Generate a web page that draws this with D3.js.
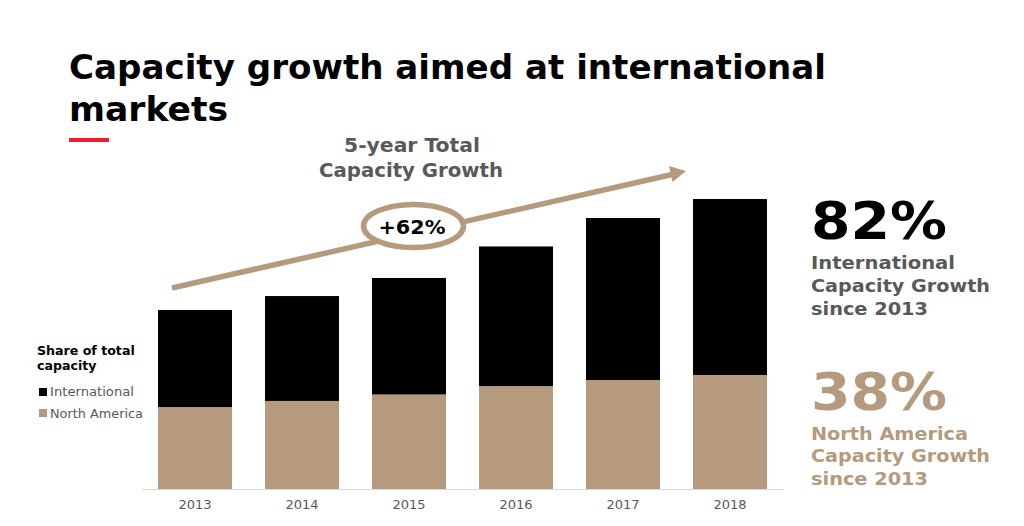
<!DOCTYPE html>
<html><head><meta charset="utf-8">
<script src="https://cdn.jsdelivr.net/npm/d3@7/dist/d3.min.js"></script>
<style>html,body{margin:0;padding:0;background:#fff;overflow:hidden}svg{display:block}text{font-family:"DejaVu Sans",sans-serif}</style>
</head><body><script>
const years = ["2013","2014","2015","2016","2017","2018"];
const northAmerica = [45.8,49.2,52.8,57.5,60.9,63.7];
const international = [54.2,58.6,65.1,78.0,90.5,98.3];
const seriesNames = ["International","North America"];
const tan = "#b59a7e", grey = "#58595b";

const svg = d3.select("body").append("svg").attr("width",1024).attr("height",526);
const x = d3.scaleBand().domain(years).range([141.5,783.5]).paddingInner(33/107).paddingOuter(16.5/107);
const y = d3.scaleLinear().domain([0,100]).range([489,310]);

svg.selectAll("rect.na").data(years).join("rect").attr("class","na")
  .attr("x",d=>x(d)).attr("width",x.bandwidth())
  .attr("y",(d,i)=>y(northAmerica[i])).attr("height",(d,i)=>y(0)-y(northAmerica[i])).attr("fill",tan);
svg.selectAll("rect.intl").data(years).join("rect").attr("class","intl")
  .attr("x",d=>x(d)).attr("width",x.bandwidth())
  .attr("y",(d,i)=>y(northAmerica[i]+international[i])).attr("height",(d,i)=>y(northAmerica[i])-y(northAmerica[i]+international[i])).attr("fill","#000");

const axis = svg.append("g").attr("transform","translate(0,489)").call(d3.axisBottom(x).tickSize(0).tickPadding(11));
axis.select(".domain").attr("stroke","#d9d9d9");
axis.selectAll("text").attr("font-size",13).attr("fill",grey).style("font-family",'"DejaVu Sans",sans-serif');

function label(t,px,py,size,weight,fill,anchor,len){
  const s = svg.append("text").text(t).attr("x",px).attr("y",py).attr("font-size",size).attr("font-weight",weight).attr("fill",fill).attr("text-anchor",anchor||"start");
  if(len) s.attr("textLength",len).attr("lengthAdjust","spacingAndGlyphs");
  return s;
}
label("Capacity growth aimed at international",69,79,34,"bold","#000","start",757);
label("markets",69,121,34,"bold","#000","start",159);
svg.append("rect").attr("x",69).attr("y",138).attr("width",40).attr("height",4).attr("fill","#ee1c2e");

label("5-year Total",412,152,19.5,"bold",grey,"middle",136);
label("Capacity Growth",411,177,19.5,"bold",grey,"middle",184);

svg.append("line").attr("x1",172).attr("y1",288).attr("x2",672).attr("y2",174.5).attr("stroke",tan).attr("stroke-width",5.5);
svg.append("path").attr("d","M686,171 L669,166 L672.5,182 Z").attr("fill",tan);
svg.append("ellipse").attr("cx",413.5).attr("cy",226).attr("rx",50).attr("ry",21.5).attr("fill","#fff").attr("stroke",tan).attr("stroke-width",5.5);
label("+62%",412,234,20,"bold","#000","middle",67);

label("Share of total",37,355,12.6,"bold","#000");
label("capacity",37,370,12.6,"bold","#000");
svg.append("rect").attr("x",39).attr("y",388).attr("width",8).attr("height",8).attr("fill","#000");
svg.append("rect").attr("x",39).attr("y",409).attr("width",8).attr("height",8).attr("fill",tan);
label(seriesNames[0],50,396,13,"normal",grey,"start",84);
label(seriesNames[1],50,418,13,"normal",grey,"start",93);

label("82%",811,239,52,"bold","#000","start",136);
label("International",811,269,18.5,"bold",grey,"start",144);
label("Capacity Growth",811,292,18.5,"bold",grey,"start",179);
label("since 2013",811,315,18.5,"bold",grey,"start",117);
label("38%",811,410,52,"bold",tan,"start",136);
label("North America",811,439.5,18.5,"bold",tan,"start",157);
label("Capacity Growth",811,462,18.5,"bold",tan,"start",179);
label("since 2013",811,485,18.5,"bold",tan,"start",117);
</script></body></html>
